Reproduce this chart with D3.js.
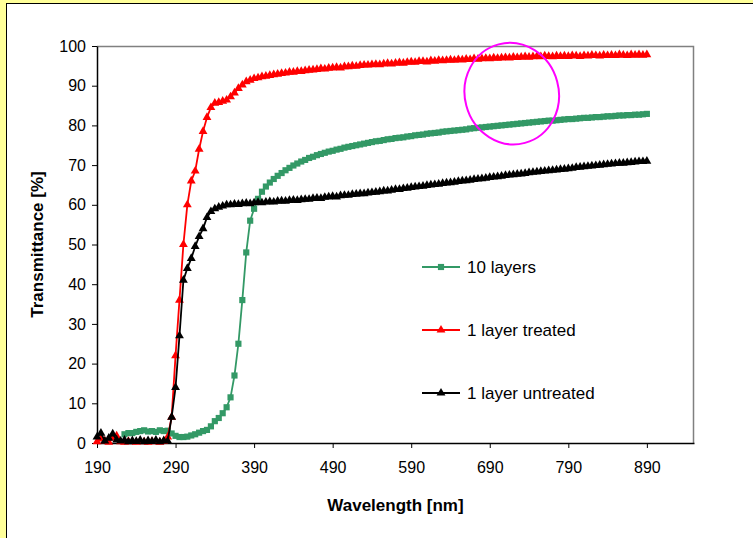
<!DOCTYPE html>
<html>
<head>
<meta charset="utf-8">
<script src="https://cdn.jsdelivr.net/npm/d3@7"></script>
<style>
  html, body { margin: 0; padding: 0; background: #FFFF99; }
  svg { display: block; }
  text { font-family: "Liberation Sans", Arial, sans-serif; fill: #000; }
</style>
</head>
<body>
<div id="chart"></div>
<script>
// Wavelength grid, 5 nm steps
const wavelengths = d3.range(190, 891, 5);

// 10 layers (starts at 225 nm)
const tenLayers = [
  null, null, null, null, null, null, null, 2.2, 2.5, 2.5,
  2.8, 3.0, 3.2, 2.9, 3.0, 2.8, 3.2, 3.0, 3.1, 2.4,
  1.8, 1.5, 1.5, 1.6, 1.9, 2.2, 2.6, 3.0, 3.3, 4.2,
  5.5, 6.3, 7.5, 9.0, 11.5, 17, 25, 36, 48, 56,
  59.0, 61.5, 63.3, 64.6, 65.6, 66.5, 67.3, 68.0, 68.7, 69.3,
  69.9, 70.4, 70.9, 71.3, 71.8, 72.1, 72.5, 72.8, 73.1, 73.4,
  73.6, 73.9, 74.1, 74.4, 74.6, 74.8, 75.0, 75.2, 75.4, 75.6,
  75.8, 76.0, 76.1, 76.3, 76.5, 76.6, 76.8, 76.9, 77.0, 77.2,
  77.3, 77.5, 77.6, 77.7, 77.9, 78.0, 78.1, 78.2, 78.4, 78.5,
  78.6, 78.7, 78.8, 78.9, 79.0, 79.2, 79.3, 79.4, 79.5, 79.6,
  79.7, 79.8, 79.9, 80.0, 80.1, 80.2, 80.3, 80.4, 80.5, 80.6,
  80.7, 80.8, 80.9, 81.0, 81.1, 81.2, 81.2, 81.3, 81.4, 81.5,
  81.6, 81.6, 81.7, 81.8, 81.9, 81.9, 82.0, 82.1, 82.1, 82.2,
  82.3, 82.3, 82.4, 82.5, 82.5, 82.6, 82.6, 82.7, 82.7, 82.8,
  82.9
];

// 1 layer treated
const treated = [
  0.3, 1.0, 0.5, 0.2, 1.3, 1.8, 0.3, 0.2, 0.4, 0.3,
  0.2, 0.4, 0.3, 0.2, 0.4, 0.3, 0.2, 0.4, 1.5, 6.5,
  22, 36, 50, 60, 66, 68.5, 74, 78.5, 82, 84.5,
  85.6, 85.8, 86.1, 86.4, 87.2, 88.2, 89.3, 90.2, 91.0, 91.4,
  91.8, 92.0, 92.3, 92.4, 92.6, 92.8, 92.9, 93.1, 93.2, 93.4,
  93.4, 93.6, 93.6, 93.8, 93.9, 94.0, 94.1, 94.3, 94.2, 94.4,
  94.5, 94.6, 94.5, 94.8, 94.8, 95.0, 94.9, 95.1, 95.2, 95.2,
  95.3, 95.4, 95.3, 95.5, 95.6, 95.5, 95.7, 95.8, 95.7, 95.9,
  96.0, 95.9, 96.1, 96.1, 96.0, 96.3, 96.2, 96.4, 96.3, 96.4,
  96.5, 96.4, 96.6, 96.5, 96.7, 96.6, 96.8, 96.7, 96.8, 96.9,
  96.8, 97.0, 96.9, 97.0, 97.1, 97.0, 97.2, 97.1, 97.2, 97.3,
  97.2, 97.3, 97.4, 97.3, 97.5, 97.4, 97.3, 97.5, 97.4, 97.5,
  97.4, 97.6, 97.5, 97.4, 97.6, 97.5, 97.7, 97.6, 97.5, 97.7,
  97.6, 97.7, 97.6, 97.8, 97.7, 97.6, 97.8, 97.7, 97.8, 97.7,
  97.8
];

// 1 layer untreated
const untreated = [
  1.5, 2.5, 0.5, 1.2, 2.3, 0.8, 0.5, 0.7, 0.3, 0.6,
  0.4, 0.7, 0.3, 0.6, 0.4, 0.7, 0.3, 0.6, 0.5, 6.5,
  14, 27, 41, 44, 46.5, 49.5, 52, 54, 56.8, 58.3,
  59.0, 59.4, 59.7, 60.0, 60.0, 60.2, 60.1, 60.3, 60.4, 60.3,
  60.5, 60.6, 60.5, 60.7, 60.8, 60.7, 60.9, 61.0, 60.9, 61.1,
  61.2, 61.1, 61.3, 61.4, 61.4, 61.6, 61.7, 61.6, 61.9, 62.0,
  62.1, 62.0, 62.3, 62.4, 62.4, 62.6, 62.7, 62.8, 62.8, 63.0,
  63.1, 63.2, 63.3, 63.5, 63.5, 63.7, 63.9, 63.9, 64.1, 64.2,
  64.4, 64.5, 64.6, 64.7, 64.9, 65.0, 65.1, 65.2, 65.4, 65.5,
  65.6, 65.7, 65.9, 66.0, 66.1, 66.2, 66.4, 66.5, 66.6, 66.7,
  66.9, 67.0, 67.1, 67.2, 67.4, 67.5, 67.6, 67.7, 67.8, 67.9,
  68.1, 68.2, 68.3, 68.4, 68.5, 68.6, 68.7, 68.8, 68.9, 69.0,
  69.1, 69.2, 69.4, 69.5, 69.6, 69.7, 69.8, 69.9, 70.0, 70.1,
  70.2, 70.3, 70.4, 70.5, 70.5, 70.6, 70.7, 70.8, 70.9, 70.9,
  71.0
];

const seriesNames = ["10 layers", "1 layer treated", "1 layer untreated"];
const xTicks = [190, 290, 390, 490, 590, 690, 790, 890];
const yTicks = [0, 10, 20, 30, 40, 50, 60, 70, 80, 90, 100];
// highlight ellipse centre, in data units
const circleAt = [718, 88];

function init() {
    const width = 753, height = 538;
    const margin = { left: 97, top: 46, right: 59, bottom: 95 };
    const pw = width - margin.left - margin.right;   // 597
    const ph = height - margin.top - margin.bottom;  // 397

    const svg = d3.select("#chart").append("svg")
        .attr("width", width)
        .attr("height", height);

    // white chart area with black edge, yellow shows on the left/top
    svg.append("rect")
        .attr("x", 6.5).attr("y", 3.5)
        .attr("width", width + 10).attr("height", height + 10)
        .attr("fill", "#fff")
        .attr("stroke", "#000")
        .attr("stroke-width", 1);

    const x = d3.scaleLinear().domain([190, 950]).range([0, pw]);
    const y = d3.scaleLinear().domain([0, 100]).range([ph, 0]);

    const g = svg.append("g")
        .attr("transform", `translate(${margin.left},${margin.top})`);

    // gray frame top and right
    g.append("path")
        .attr("d", `M0,0.5H${pw - 0.5}V${ph}`)
        .attr("fill", "none")
        .attr("stroke", "#808080")
        .attr("stroke-width", 1.5);

    // axes
    const xAxis = g.append("g")
        .attr("transform", `translate(0,${ph})`)
        .call(d3.axisBottom(x).tickValues(xTicks).tickSize(5).tickPadding(14).tickSizeOuter(0));
    const yAxis = g.append("g")
        .call(d3.axisLeft(y).tickValues(yTicks).tickSize(5).tickPadding(6).tickSizeOuter(0));

    [xAxis, yAxis].forEach(a => {
        a.select(".domain").attr("stroke", "#000").attr("stroke-width", 1.5);
        a.selectAll(".tick line").attr("stroke", "#000");
        a.selectAll("text")
            .style("font-family", "'Liberation Sans', Arial, sans-serif")
            .style("font-size", "16px")
            .attr("fill", "#000");
    });

    // series
    const series = [
        { name: seriesNames[0], values: tenLayers, color: "#339966", symbol: d3.symbolSquare, size: 38 },
        { name: seriesNames[1], values: treated, color: "#FF0000", symbol: d3.symbolTriangle, size: 34 },
        { name: seriesNames[2], values: untreated, color: "#000000", symbol: d3.symbolTriangle, size: 34 }
    ];

    const line = d3.line()
        .defined(d => d[1] != null)
        .x(d => x(d[0]))
        .y(d => y(d[1]));

    series.forEach(s => {
        const pts = wavelengths.map((w, i) => [w, s.values[i]]);
        const sg = g.append("g");
        sg.append("path")
            .datum(pts)
            .attr("d", line)
            .attr("fill", "none")
            .attr("stroke", s.color)
            .attr("stroke-width", 1.8);
        sg.selectAll("path.m")
            .data(pts.filter(d => d[1] != null))
            .enter()
            .append("path")
            .attr("class", "m")
            .attr("transform", d => `translate(${x(d[0])},${y(d[1])})`)
            .attr("d", d3.symbol().type(s.symbol).size(s.size))
            .attr("fill", s.color);
    });

    // legend
    const legend = svg.append("g");
    const legendY = [267, 330, 393];
    series.forEach((s, i) => {
        const lg = legend.append("g").attr("transform", `translate(422,${legendY[i]})`);
        lg.append("line")
            .attr("x1", 0).attr("x2", 38)
            .attr("stroke", s.color).attr("stroke-width", 1.8);
        lg.append("path")
            .attr("transform", "translate(19,0)")
            .attr("d", d3.symbol().type(s.symbol).size(s.size))
            .attr("fill", s.color);
        lg.append("text")
            .attr("x", 45).attr("dy", "0.35em")
            .style("font-size", "17px")
            .text(s.name);
    });

    // magenta highlight ellipse
    g.append("ellipse")
        .attr("transform", `translate(${x(circleAt[0])},${y(circleAt[1])}) rotate(-15)`)
        .attr("rx", 47).attr("ry", 51)
        .attr("fill", "none")
        .attr("stroke", "#FF00FF")
        .attr("stroke-width", 2);

    // axis titles
    svg.append("text")
        .attr("x", margin.left + pw / 2)
        .attr("y", 511)
        .attr("text-anchor", "middle")
        .style("font-size", "17px")
        .style("font-weight", "bold")
        .text("Wavelength [nm]");

    svg.append("text")
        .attr("transform", `translate(43,${margin.top + ph / 2}) rotate(-90)`)
        .attr("text-anchor", "middle")
        .style("font-size", "17px")
        .style("font-weight", "bold")
        .text("Transmittance [%]");
}

init();
</script>
</body>
</html>
